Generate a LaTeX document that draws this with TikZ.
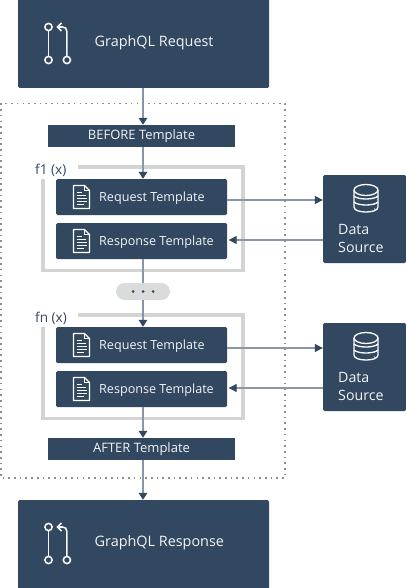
\documentclass[tikz,border=0pt]{standalone}
\usepackage{fontspec}
\setmainfont{Open Sans}
\usetikzlibrary{arrows.meta}
\definecolor{navy}{HTML}{324760}
\definecolor{conn}{HTML}{8896A6}
\definecolor{frameg}{HTML}{D2D3D3}
\definecolor{pillg}{HTML}{DADBDB}
\definecolor{dotg}{HTML}{8A8F94}
\definecolor{lab}{HTML}{F2F4F6}
\tikzset{
  dbox/.style={fill=navy,draw=none,rounded corners=1.5pt,inner sep=0pt},
  bigbox/.style={dbox,minimum width=251pt,minimum height=90pt},
  tmplbox/.style={dbox,minimum width=171pt,minimum height=36pt},
  barbox/.style={fill=navy,draw=none,inner sep=0pt,minimum width=187pt,minimum height=22pt},
  dsbox/.style={dbox,minimum width=83pt,minimum height=88pt},
  lbl/.style={text=lab,inner sep=0pt,anchor=west},
  barlbl/.style={text=lab,inner sep=0pt,font=\fontsize{13}{15}\selectfont},
  biglbl/.style={lbl,font=\fontsize{14.4}{16}\selectfont},
  tmpllbl/.style={lbl,font=\fontsize{12.6}{14}\selectfont},
  dslbl/.style={lbl,font=\fontsize{14.2}{16}\selectfont},
  fnlbl/.style={text=navy,inner sep=0pt,anchor=west,font=\fontsize{13.6}{15}\selectfont},
  flow/.style={conn,line width=1.5pt,-{Triangle[fill=navy,color=navy,length=7pt,width=8.5pt]}},
  side/.style={conn,line width=1.1pt,-{Triangle[fill=navy,color=navy,length=8pt,width=8pt]}},
  plainflow/.style={conn,line width=1.5pt},
  frm/.style={frameg,line width=3.2pt},
  ico/.style={white,line width=1.3pt},
  qlico/.style={lab,line width=1.6pt},
  pics/ql/.style={code={
    \draw[qlico] (0,3.8)--(0,29.2);
    \draw[qlico] (0,0) circle (3.6pt);
    \draw[qlico] (0,33) circle (3.6pt);
    \draw[qlico] (18.4,33) circle (3.6pt);
    \draw[qlico] (18.4,29.2)--(18.4,4.5) .. controls (18.4,1.5) and (16.5,0) .. (14,0)--(9,0);
    \draw[qlico,line join=miter] (13,-4)--(9,0)--(13,4);
  }},
  pics/doc/.style={code={
    \draw[ico,line join=round] (-8,-11.5)--(3,-11.5)--(8,-6.5)--(8,11.5)--(-8,11.5)--cycle;
    \draw[white,line width=.7pt] (3,-11.5)--(3,-6.5)--(8,-6.5);
    \foreach \yy/\ww in {-4.5/5,-1.5/9,1.5/10,4.5/10,7.5/7}
      \draw[white,line width=1pt] (-5,\yy)--(-5+\ww,\yy);
  }},
  pics/db/.style={code={
    \draw[ico] (0,-8) ellipse (12pt and 5.5pt);
    \draw[ico] (-12,-8)--(-12,9) .. controls (-12,12.5) and (-6,14) .. (0,14) .. controls (6,14) and (12,12.5) .. (12,9)--(12,-8);
    \draw[ico] (-12,-2) .. controls (-8,2) and (8,2) .. (12,-2);
    \draw[ico] (-12,4) .. controls (-8,8) and (8,8) .. (12,4);
    \fill[white] (8.5,-0.5) circle (.6pt) (8.5,6) circle (.6pt) (8.5,11) circle (.6pt);
  }}
}
\begin{document}
\begin{tikzpicture}[x=1pt,y=-1pt]
\useasboundingbox (0,0) rectangle (406,588);
\fill[white] (0,0) rectangle (406,588);
% outer dotted
\draw[dotg,line width=1.6pt,dash pattern=on 1.6pt off 4.1pt] (1,103.5) rectangle (285,478);
% function frames
\draw[frm] (78,167)--(243,167)--(243,270.5)--(43,270.5)--(43,179);
\draw[frm] (78,315)--(243,315)--(243,418.5)--(43,418.5)--(43,327);
% boxes
\node[bigbox] (req) at (143.5,43) {};
\node[bigbox] (res) at (143.5,545) {};
\node[barbox] (before) at (141.5,136) {};
\node[barbox] (after) at (141.5,449) {};
\node[tmplbox] (rq1) at (141.5,197) {};
\node[tmplbox] (rs1) at (141.5,241) {};
\node[tmplbox] (rq2) at (141.5,345) {};
\node[tmplbox] (rs2) at (141.5,389) {};
\node[dsbox] (ds1) at (364.5,219) {};
\node[dsbox] (ds2) at (364.5,367) {};
\node[fill=pillg,rounded corners=8.5pt,minimum width=54pt,minimum height=17pt,inner sep=0pt] (pill) at (143,291.5) {};
\fill[navy] (pill.center) circle (1.5pt) ++(-10,0) circle (1.5pt) ++(20,0) circle (1.5pt);
% labels
\node[barlbl] (lb) at (141.5,136) {BEFORE Template};
\node[barlbl] (la) at (141.5,449) {AFTER Template};
\node[biglbl] (lreq) at (94.5,43) {GraphQL Request};
\node[biglbl] (lres) at (94.5,543) {GraphQL Response};
\node[tmpllbl] (l1) at (99,198) {Request Template};
\node[tmpllbl] (l2) at (99,242) {Response Template};
\node[tmpllbl] (l3) at (99,346) {Request Template};
\node[tmpllbl] (l4) at (99,390) {Response Template};
\node[fnlbl] (f1) at (35,170) {f1 (x)};
\node[fnlbl] (fn) at (35,318) {fn (x)};
\node[dslbl] (d1a) at (338,229) {Data};
\node[dslbl] (d1b) at (338,247) {Source};
\node[dslbl] (d2a) at (338,377) {Data};
\node[dslbl] (d2b) at (338,395) {Source};
% icons
\pic at (48.5,27) {ql};
\pic at (48.5,527) {ql};
\pic at (81.5,197) {doc};
\pic at (81.5,241) {doc};
\pic at (81.5,345) {doc};
\pic at (81.5,389) {doc};
\pic at (366,198) {db};
\pic at (366,346) {db};
% connectors
\coordinate (cx) at (143,0);
\draw[flow] (cx |- req.south) -- (cx |- before.north);
\draw[flow] (cx |- before.south) -- (cx |- rq1.north);
\draw[plainflow] (cx |- rs1.south) -- (pill.north);
\draw[flow] (pill.south) -- (cx |- rq2.north);
\draw[flow] (cx |- rs2.south) -- (cx |- after.north);
\draw[flow] (cx |- after.south) -- (cx |- res.north);
\coordinate (y1) at (0,200);
\coordinate (y2) at (0,240);
\coordinate (y3) at (0,348);
\coordinate (y4) at (0,388);
\draw[side] (rq1.east |- y1) -- (ds1.west |- y1);
\draw[side] (ds1.west |- y2) -- ([xshift=1.5pt]rs1.east |- y2);
\draw[side] (rq2.east |- y3) -- (ds2.west |- y3);
\draw[side] (ds2.west |- y4) -- ([xshift=1.5pt]rs2.east |- y4);
\end{tikzpicture}
\end{document}
